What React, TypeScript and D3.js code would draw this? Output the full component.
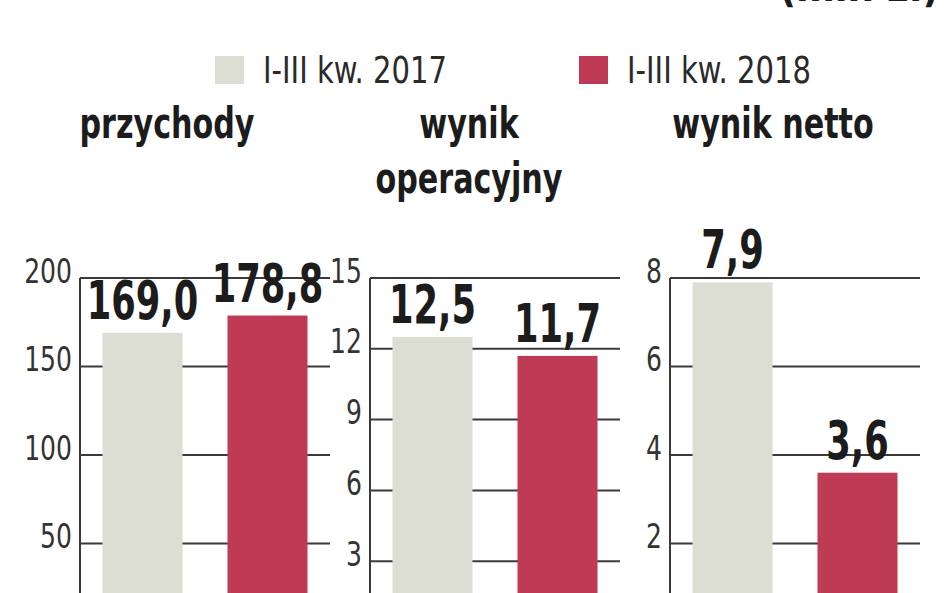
import React from "react";
import * as d3 from "d3";

const panelTitles: string[][] = [["przychody"], ["wynik", "operacyjny"], ["wynik netto"]];
const seriesNames = ["I-III kw. 2017", "I-III kw. 2018"];
const values2017 = [169.0, 12.5, 7.9];
const values2018 = [178.8, 11.7, 3.6];
const valueLabels2017 = ["169,0", "12,5", "7,9"];
const valueLabels2018 = ["178,8", "11,7", "3,6"];
const axisMax = [200, 15, 8];
const axisTicks = [
  [50, 100, 150, 200],
  [3, 6, 9, 12, 15],
  [2, 4, 6, 8],
];
const unitText = "(mln zł)";

const W = 948;
const H = 593;
const FONT = "'DejaVu Sans Condensed', 'DejaVu Sans', sans-serif";
const COLORS = ["#dcddd3", "#be3a55"];
const INK = "#1c1c1c";
const LINE = "#3a3a3a";

const axisX = [80, 370, 670];
const panelW = 250;
const yTop = 278;
const yBase = 632;
const titleOffset = [87, 99, 103];

type NTProps = {
  x: number;
  y: number;
  sx: number;
  size: number;
  bold?: boolean;
  anchor?: "start" | "middle" | "end";
  fill?: string;
  children: React.ReactNode;
};

function NText({ x, y, sx, size, bold, anchor = "start", fill = INK, children }: NTProps) {
  return (
    <text
      transform={`translate(${x},${y}) scale(${sx},1)`}
      textAnchor={anchor}
      fontFamily={FONT}
      fontWeight={bold ? 700 : 400}
      fontSize={size}
      fill={fill}
    >
      {children}
    </text>
  );
}

export default function App() {
  const band = d3
    .scaleBand<string>()
    .domain(seriesNames)
    .range([0, panelW])
    .paddingInner(0.36)
    .paddingOuter(0.18);

  return (
    <svg
      width={W}
      height={H}
      viewBox={`0 0 ${W} ${H}`}
      style={{ position: "absolute", left: 0, top: 0, background: "#fff" }}
    >
      <rect x={0} y={0} width={W} height={H} fill="#fff" />
      {/* cut-off headline fragment */}
      <NText x={779} y={1} sx={0.9} size={46} bold>
        {unitText}
      </NText>

      {/* legend */}
      {seriesNames.map((s, i) => {
        const lx = [215, 579][i];
        return (
          <g key={s}>
            <rect x={lx} y={56} width={29} height={28} fill={COLORS[i]} />
            <NText x={lx + 48} y={83} sx={0.85} size={38} fill="#2a2a2a">
              {s}
            </NText>
          </g>
        );
      })}

      {panelTitles.map((lines, p) => {
        const x0 = axisX[p];
        const y = d3.scaleLinear().domain([0, axisMax[p]]).range([yBase, yTop]);
        const vals = [values2017[p], values2018[p]];
        const labs = [valueLabels2017[p], valueLabels2018[p]];
        return (
          <g key={p}>
            {lines.map((t, li) => (
              <NText key={t} x={x0 + titleOffset[p]} y={138 + li * 55} sx={0.78} size={43} bold anchor="middle">
                {t}
              </NText>
            ))}
            {axisTicks[p].map((t) => (
              <g key={t}>
                <line x1={x0} x2={x0 + panelW} y1={y(t)} y2={y(t)} stroke={LINE} strokeWidth={2} />
                <NText x={x0 - 8} y={y(t) + 4.5} sx={0.82} size={34} anchor="end" fill="#333">
                  {t}
                </NText>
              </g>
            ))}
            {vals.map((v, i) => (
              <rect
                key={i}
                x={x0 + (band(seriesNames[i]) as number)}
                y={y(v)}
                width={band.bandwidth()}
                height={yBase - y(v)}
                fill={COLORS[i]}
              />
            ))}
            <line x1={x0} x2={x0} y1={yTop} y2={yBase} stroke={LINE} strokeWidth={2} />
            {vals.map((v, i) => (
              <NText
                key={"l" + i}
                x={x0 + (band(seriesNames[i]) as number) + band.bandwidth() / 2}
                y={y(v) - 14}
                sx={0.74}
                size={53}
                bold
                anchor="middle"
              >
                {labs[i]}
              </NText>
            ))}
          </g>
        );
      })}
    </svg>
  );
}
